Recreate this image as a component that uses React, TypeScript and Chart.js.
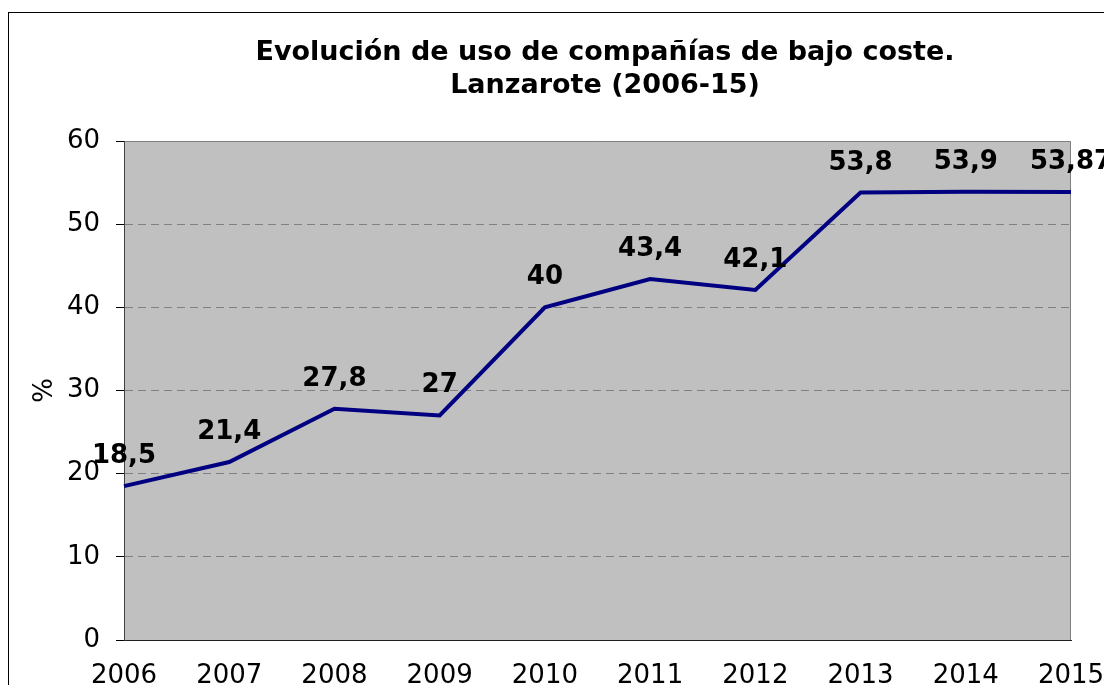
import React, { useEffect, useRef } from "react";
import { Chart, registerables } from "chart.js";

Chart.register(...registerables);

const years = ["2006", "2007", "2008", "2009", "2010", "2011", "2012", "2013", "2014", "2015"];
const lowCostShare = [18.5, 21.4, 27.8, 27, 40, 43.4, 42.1, 53.8, 53.9, 53.87];
const titleLines = ["Evolución de uso de compañías de bajo coste.", "Lanzarote (2006-15)"];
const yTitle = "%";

const FONT = '"DejaVu Sans", Verdana, sans-serif';

const bgPlugin = {
  id: "plotBg",
  beforeDraw(chart: any) {
    const { ctx, chartArea } = chart;
    if (!chartArea) return;
    const { left, top, right, bottom } = chartArea;
    ctx.save();
    ctx.fillStyle = "#C0C0C0";
    ctx.fillRect(left, top, right - left, bottom - top);
    ctx.strokeStyle = "#808080";
    ctx.lineWidth = 1;
    ctx.beginPath();
    ctx.moveTo(left, top + 0.5);
    ctx.lineTo(right - 0.5, top + 0.5);
    ctx.lineTo(right - 0.5, bottom);
    ctx.stroke();
    ctx.restore();
  },
};

const titlePlugin = {
  id: "twoLineTitle",
  afterDraw(chart: any) {
    const { ctx, width } = chart;
    ctx.save();
    ctx.font = `bold 27px ${FONT}`;
    ctx.fillStyle = "#000";
    ctx.textAlign = "center";
    ctx.textBaseline = "alphabetic";
    ctx.fillText(titleLines[0], width / 2, 47);
    ctx.fillText(titleLines[1], width / 2, 80);
    ctx.restore();
  },
};

const labelPlugin = {
  id: "valueLabels",
  afterDatasetsDraw(chart: any) {
    const { ctx } = chart;
    const meta = chart.getDatasetMeta(0);
    ctx.save();
    ctx.font = `bold 26px ${FONT}`;
    ctx.fillStyle = "#000";
    ctx.textAlign = "center";
    ctx.textBaseline = "alphabetic";
    meta.data.forEach((pt: any, i: number) => {
      const txt = String(lowCostShare[i]).replace(".", ",");
      ctx.fillText(txt, pt.x, pt.y - 23);
    });
    ctx.restore();
  },
};

export default function App() {
  const canvasRef = useRef<HTMLCanvasElement | null>(null);

  useEffect(() => {
    const canvas = canvasRef.current;
    if (!canvas) return;
    const chart = new Chart(canvas, {
      type: "line",
      data: {
        labels: years,
        datasets: [
          {
            data: lowCostShare,
            borderColor: "#000080",
            borderWidth: 4,
            pointRadius: 0,
            tension: 0,
            fill: false,
          },
        ],
      },
      options: {
        animation: false,
        responsive: false,
        maintainAspectRatio: false,
        devicePixelRatio: 1,
        layout: { padding: { top: 128, right: 130, bottom: 53, left: 0 } },
        plugins: {
          legend: { display: false },
          title: { display: false },
          tooltip: { enabled: false },
        },
        scales: {
          x: {
            type: "category",
            offset: false,
            grid: { display: false, drawTicks: false },
            border: { display: true, color: "#202020", width: 1 },
            ticks: {
              color: "#000",
              font: { family: FONT, size: 26 },
              padding: 21,
              maxRotation: 0,
              autoSkip: false,
            },
            afterFit(scale: any) {
              scale.height = 60;
            },
          },
          y: {
            min: 0,
            max: 60,
            grid: {
              color: (c: any) =>
                c.tick && (c.tick.value === 0 || c.tick.value === 60) ? "rgba(0,0,0,0)" : "#808080",
              lineWidth: 1,
              drawTicks: true,
              tickLength: 8,
              tickColor: "#000",
              tickWidth: 1,
              tickBorderDash: [],
            } as any,
            border: { display: true, color: "#404040", width: 1, dash: [8, 5] } as any,
            ticks: {
              stepSize: 10,
              color: "#000",
              font: { family: FONT, size: 26 },
              padding: 16,
            },
            title: {
              display: true,
              text: yTitle,
              color: "#000",
              font: { family: FONT, size: 26 },
              padding: { top: 21, bottom: 0 },
            },
            afterFit(scale: any) {
              scale.width = 115;
            },
          },
        },
      },
      plugins: [bgPlugin, titlePlugin, labelPlugin],
    });
    return () => chart.destroy();
  }, []);

  return (
    <div style={{ position: "relative", width: 1104, height: 685, marginBottom: -8, overflow: "hidden" }}>
      <div
        style={{
          position: "absolute",
          left: 0,
          top: 4,
          width: 1192,
          height: 740,
          border: "1px solid #000",
        }}
      >
        <canvas ref={canvasRef} width={1192} height={740} style={{ display: "block", width: 1192, height: 740 }} />
      </div>
    </div>
  );
}
